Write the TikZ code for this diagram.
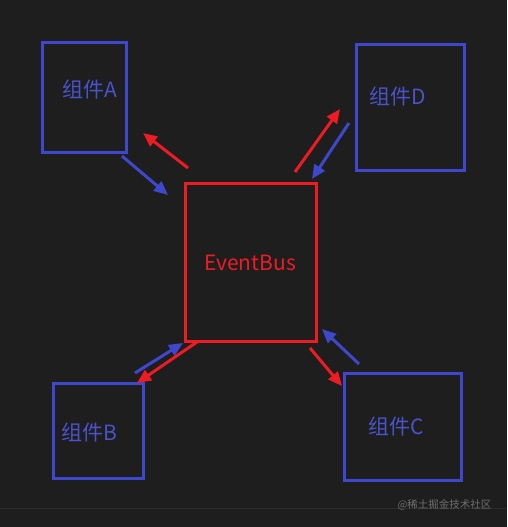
\documentclass[tikz,border=0pt]{standalone}
\usepackage{fontspec}
\setmainfont{Noto Sans CJK SC}
\usetikzlibrary{arrows.meta}
\definecolor{bg}{HTML}{1E1E1E}
\definecolor{cblue}{HTML}{3F48CC}
\definecolor{tblue}{HTML}{4A52CC}
\definecolor{cred}{HTML}{ED1C24}
\definecolor{wm}{HTML}{6E6E6E}
\definecolor{rule}{HTML}{2C2C2C}
\tikzset{
  comp/.style={draw=cblue, line width=3pt, inner sep=0pt},
  bus/.style={draw=cred, line width=3pt, inner sep=0pt},
  lbl/.style={text=tblue, font=\fontsize{21}{24}\selectfont, inner sep=0pt},
  buslbl/.style={text=cred, font=\fontsize{21}{24}\selectfont, inner sep=0pt},
  barrow/.style={draw=cblue, line width=3pt, -{Triangle[length=14pt,width=12pt]}},
  rarrow/.style={draw=cred, line width=3pt, -{Triangle[length=14pt,width=12pt]}},
}
\begin{document}
\begin{tikzpicture}[x=1pt,y=-1pt]
\fill[bg] (0,0) rectangle (507,527);
\useasboundingbox (0,0) rectangle (507,527);
\draw[rule, line width=1pt] (0,508) -- (507,508);
% boxes
\node[comp, minimum width=84pt, minimum height=109pt] (A) at (84,97.5) {};
\node[comp, minimum width=108pt, minimum height=125pt] (D) at (410,107.5) {};
\node[bus, minimum width=131pt, minimum height=158pt] (E) at (250.5,262) {};
\node[comp, minimum width=90pt, minimum height=95pt] (B) at (98,430.5) {};
\node[comp, minimum width=117pt, minimum height=107pt] (C) at (402.5,426.5) {};
% labels
\node[lbl] (la) at (90,90) {组件A};
\node[lbl] (ld) at (398,97) {组件D};
\node[lbl] (lb) at (89,433) {组件B};
\node[lbl] (lc) at (396,427) {组件C};
\node[buslbl] (le) at (250,263) {EventBus};
% arrow end points
\coordinate (a1) at (122,156); \coordinate (a2) at (168,195);
\coordinate (a3) at (188,168); \coordinate (a4) at (143,133);
\coordinate (d1) at (295,172); \coordinate (d2) at (340,109);
\coordinate (d3) at (349,123); \coordinate (d4) at (312,179);
\coordinate (b1) at (135,373); \coordinate (b2) at (183,343);
\coordinate (b3) at (197,342); \coordinate (b4) at (137,383);
\coordinate (c1) at (310,348); \coordinate (c2) at (342,386);
\coordinate (c3) at (359,364); \coordinate (c4) at (322,329);
% arrows
\draw[barrow] (a1) -- (a2);
\draw[rarrow] (a3) -- (a4);
\draw[rarrow] (d1) -- (d2);
\draw[barrow] (d3) -- (d4);
\draw[barrow] (b1) -- (b2);
\draw[rarrow] (b3) -- (b4);
\draw[rarrow] (c1) -- (c2);
\draw[barrow] (c3) -- (c4);
% watermark
\node[text=wm, font=\fontsize{10.5}{12}\selectfont, inner sep=0pt] (wmk) at (444.5,505) {@稀土掘金技术社区};
\end{tikzpicture}
\end{document}
